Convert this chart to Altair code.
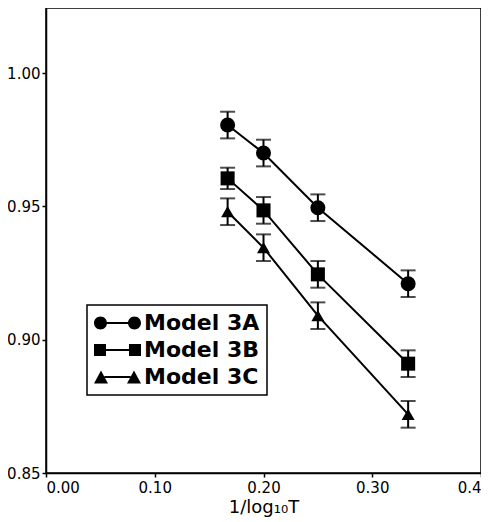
import altair as alt
import pandas as pd

# ---- data ----
x_vals = [0.167, 0.200, 0.250, 0.333]
series_names = ["Model 3A", "Model 3B", "Model 3C"]
y_3A = [0.9805, 0.9700, 0.9495, 0.9210]
y_3B = [0.9605, 0.9485, 0.9245, 0.8910]
y_3C = [0.9480, 0.9345, 0.9090, 0.8720]
err_3A = [0.005, 0.005, 0.005, 0.005]
err_3B = [0.004, 0.005, 0.005, 0.005]
err_3C = [0.005, 0.005, 0.005, 0.005]
x_ticks = [0.0, 0.1, 0.2, 0.3, 0.4]
y_ticks = [0.85, 0.90, 0.95, 1.00]

rows = []
for name, ys, es in zip(series_names, [y_3A, y_3B, y_3C], [err_3A, err_3B, err_3C]):
    for xv, yv, ev in zip(x_vals, ys, es):
        rows.append({"x": xv, "y": yv, "lo": yv - ev, "hi": yv + ev, "series": name})
df = pd.DataFrame(rows)

# legend symbols: marker - line - marker (custom SVG paths, unit = 11 px)
circ_path = ("M-1,0 A0.5909,0.5909 0 1,1 0.1818,0 A0.5909,0.5909 0 1,1 -1,0 Z "
             "M2.0909,0 A0.5909,0.5909 0 1,1 3.2727,0 A0.5909,0.5909 0 1,1 2.0909,0 Z "
             "M0.15,-0.0909 L2.12,-0.0909 L2.12,0.0909 L0.15,0.0909 Z")
sq_path = ("M-1,-0.5455 L0.0909,-0.5455 L0.0909,0.5455 L-1,0.5455 Z "
           "M2.1818,-0.5455 L3.2727,-0.5455 L3.2727,0.5455 L2.1818,0.5455 Z "
           "M0.0909,-0.0909 L2.1818,-0.0909 L2.1818,0.0909 L0.0909,0.0909 Z")
tri_path = ("M-0.3636,-0.5909 L0.2727,0.5909 L-1,0.5909 Z "
            "M2.6364,-0.5909 L3.2727,0.5909 L2.0,0.5909 Z "
            "M-0.05,-0.0909 L2.32,-0.0909 L2.32,0.0909 L-0.05,0.0909 Z")

xs = alt.Scale(domain=[0, 0.4], nice=False, zero=False)
ys_ = alt.Scale(domain=[0.85, 1.0244], nice=False, zero=False)

x_enc = alt.X("x:Q", scale=xs, title="1/log₁₀T",
              axis=alt.Axis(values=x_ticks,
                            labelExpr="datum.value == 0.4 ? '0.4' : format(datum.value, '.2f')",
                            labelFont="DejaVu Sans", labelFontSize=15, labelPadding=3,
                            tickSize=4, titleFont="DejaVu Sans", titleFontSize=18,
                            titleFontWeight="normal", titlePadding=3))
y_enc = alt.Y("y:Q", scale=ys_, title=None,
              axis=alt.Axis(values=y_ticks, format=".2f", labelFont="DejaVu Sans",
                            labelFontSize=15, labelPadding=2, tickSize=4))

base = alt.Chart(df)

lines = base.mark_line(color="black", strokeWidth=2).encode(
    x=x_enc, y=y_enc, detail="series:N")

bars = base.mark_rule(color="black", strokeWidth=2).encode(
    x="x:Q", y="lo:Q", y2="hi:Q")
cap_lo = base.mark_tick(color="black", orient="horizontal", size=15, thickness=2).encode(
    x="x:Q", y="lo:Q")
cap_hi = base.mark_tick(color="black", orient="horizontal", size=15, thickness=2).encode(
    x="x:Q", y="hi:Q")

points = base.mark_point(filled=True, color="black", opacity=1).encode(
    x="x:Q", y="y:Q",
    shape=alt.Shape("series:N", scale=alt.Scale(domain=series_names,
                                                 range=["circle", "square", "triangle-up"]),
                    legend=None),
    size=alt.Size("series:N", scale=alt.Scale(domain=series_names, range=[225, 169, 256]),
                  legend=None))

legend_layer = base.mark_point(filled=True, color="black", opacity=0).encode(
    x="x:Q", y="y:Q",
    shape=alt.Shape("series:N",
                    scale=alt.Scale(domain=series_names, range=[circ_path, sq_path, tri_path]),
                    legend=alt.Legend(title=None, orient="none", legendX=41, legendY=297,
                                      symbolSize=484, symbolOpacity=1,
                                      symbolFillColor="black", symbolStrokeWidth=0,
                                      labelFont="DejaVu Sans", labelFontSize=22,
                                      labelFontWeight="bold", labelColor="black",
                                      labelOffset=28, rowPadding=5, padding=7,
                                      strokeColor="black")))

chart = alt.layer(lines, bars, cap_lo, cap_hi, points, legend_layer).resolve_scale(
    shape="independent", size="independent"
).properties(
    width=435, height=465,
    padding={"left": 38, "top": 0, "right": 0, "bottom": 50},
    autosize=alt.AutoSizeParams(type="none"),
).configure_view(
    stroke="black", strokeWidth=1.5
).configure_axis(
    grid=False, domainColor="black", domainWidth=1.5, tickColor="black", tickWidth=1.5,
    labelColor="black", titleColor="black"
).configure_legend(
    strokeWidth=1.5
)

chart.save("out.html", embed_options={"renderer": "svg", "actions": False})
